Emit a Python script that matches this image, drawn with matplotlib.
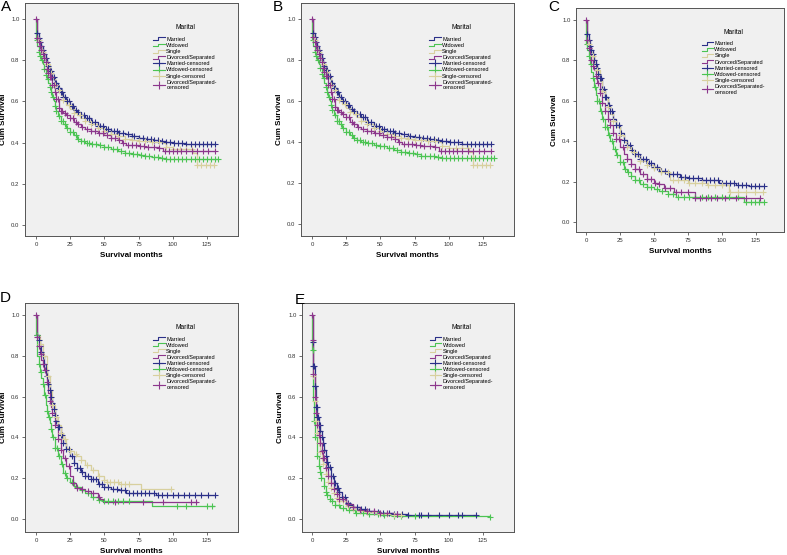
import numpy as np
import matplotlib
matplotlib.use("Agg")
import matplotlib.pyplot as plt
from matplotlib.lines import Line2D
from matplotlib.legend_handler import HandlerBase

plt.rcParams['font.family'] = ['Liberation Sans', 'DejaVu Sans']

groups = ["Married", "Widowed", "Single", "Divorced/Separated"]
censored_labels = ["Married-censored", "Widowed-censored", "Single-censored",
                   "Divorced/Separated-\ncensored"]
colors = ['#2b3088', '#4cc453', '#d8d09e', '#8c378c']
x_ticks = [0, 25, 50, 75, 100, 125]
y_ticks = [0.0, 0.2, 0.4, 0.6, 0.8, 1.0]
y_ticklabels = ["0.0", "0.2", "0.4", "0.6", "0.8", "1.0"]

# ---------------- Panel A (and B: same data) ----------------
A_married_t = [0, 0.5, 1, 2, 3, 4, 5, 6, 7, 8, 9, 10, 12, 14, 16, 18, 20, 22, 25, 28, 30, 33, 36, 40, 45, 50, 55, 60, 65, 70, 75, 80, 85, 90, 95, 100, 105, 110, 131]
A_married_s = [1.0, 0.95, 0.93, 0.91, 0.89, 0.87, 0.85, 0.83, 0.81, 0.79, 0.77, 0.75, 0.72, 0.69, 0.665, 0.645, 0.62, 0.60, 0.58, 0.56, 0.55, 0.535, 0.52, 0.50, 0.48, 0.465, 0.455, 0.445, 0.44, 0.43, 0.425, 0.42, 0.415, 0.41, 0.405, 0.40, 0.40, 0.392, 0.392]
A_married_c = [1, 2, 3, 4, 5, 6, 7, 8, 9, 10, 11, 12, 13, 14, 15, 16, 17, 18, 19, 20, 21, 23, 24, 26, 27, 29, 31, 33, 35, 37, 39, 41, 43, 45, 47, 49, 51, 53, 55, 57, 59, 61, 64, 67, 70, 72, 75, 78, 81, 84, 86, 89, 92, 95, 98, 101, 104, 107, 110, 113, 116, 119, 122, 125, 128, 131]

A_widowed_t = [0, 0.3, 1, 2, 3, 4, 5, 6, 7, 8, 9, 10, 11, 12, 13, 14, 15, 16, 18, 20, 22, 25, 28, 30, 33, 36, 40, 45, 50, 55, 60, 65, 70, 75, 80, 85, 90, 95, 133]
A_widowed_s = [1.0, 0.90, 0.87, 0.84, 0.82, 0.80, 0.78, 0.76, 0.73, 0.71, 0.69, 0.67, 0.645, 0.62, 0.60, 0.58, 0.555, 0.53, 0.505, 0.49, 0.47, 0.45, 0.435, 0.42, 0.41, 0.40, 0.395, 0.388, 0.38, 0.37, 0.36, 0.35, 0.345, 0.34, 0.333, 0.33, 0.328, 0.322, 0.322]
A_widowed_c = [0.5, 2, 3, 4.5, 6, 7, 8.5, 10, 11, 12.5, 14, 15, 16.5, 18, 19.5, 21, 23, 25, 27, 29, 31, 33, 35, 37, 39, 41, 44, 47, 50, 53, 56, 59, 62, 65, 68, 71, 74, 77, 80, 83, 86, 89, 92, 95, 98, 101, 104, 107, 110, 113, 116, 119, 122, 125, 128, 131, 133]

A_single_t = [0, 0.5, 1, 2, 3, 4, 5, 6, 7, 8, 10, 12, 14, 16, 18, 20, 22, 25, 28, 30, 33, 36, 40, 45, 50, 55, 60, 65, 70, 75, 85, 92, 95, 100, 112, 115, 118, 130]
A_single_s = [1.0, 0.95, 0.92, 0.90, 0.88, 0.86, 0.84, 0.82, 0.80, 0.78, 0.74, 0.71, 0.68, 0.655, 0.63, 0.605, 0.585, 0.565, 0.545, 0.535, 0.52, 0.505, 0.49, 0.47, 0.455, 0.44, 0.43, 0.42, 0.415, 0.41, 0.405, 0.40, 0.38, 0.37, 0.37, 0.35, 0.29, 0.29]
A_single_c = [2, 5, 8, 11, 14, 17, 20, 24, 28, 32, 36, 40, 45, 50, 55, 60, 65, 70, 75, 80, 85, 90, 95, 100, 105, 110, 114, 118, 121, 124, 127, 130]

A_divorced_t = [0, 0.5, 1, 2, 3, 4, 5, 6, 7, 8, 9, 10, 12, 14, 15, 17, 18, 20, 22, 25, 28, 30, 33, 36, 40, 45, 50, 55, 60, 63, 66, 70, 75, 80, 85, 90, 93, 131]
A_divorced_s = [1.0, 0.94, 0.91, 0.89, 0.87, 0.85, 0.83, 0.81, 0.79, 0.76, 0.74, 0.72, 0.68, 0.645, 0.61, 0.57, 0.555, 0.545, 0.535, 0.52, 0.50, 0.49, 0.475, 0.465, 0.455, 0.445, 0.435, 0.425, 0.415, 0.40, 0.39, 0.39, 0.385, 0.38, 0.38, 0.375, 0.358, 0.358]
A_divorced_c = [0, 1, 2, 3, 4, 5, 6, 7, 8, 9, 10, 11, 12, 13, 14, 15, 16, 17, 18, 19, 21, 23, 25, 27, 29, 31, 34, 37, 40, 43, 46, 49, 52, 55, 58, 61, 64, 67, 70, 73, 76, 79, 82, 86, 90, 94, 97, 100, 103, 106, 110, 114, 118, 122, 126, 131]

# ---------------- Panel C ----------------
C_married_t = [0, 0.5, 1, 2, 3, 4, 5, 6, 7, 8, 9, 10, 12, 14, 16, 18, 20, 22, 25, 28, 30, 33, 36, 40, 45, 50, 54, 60, 69, 75, 85, 98, 110, 120, 131]
C_married_s = [1.0, 0.95, 0.93, 0.90, 0.87, 0.85, 0.83, 0.80, 0.78, 0.76, 0.73, 0.71, 0.66, 0.62, 0.58, 0.55, 0.51, 0.48, 0.44, 0.405, 0.38, 0.355, 0.335, 0.31, 0.29, 0.27, 0.25, 0.235, 0.22, 0.215, 0.205, 0.195, 0.185, 0.178, 0.178]
C_married_c = [1, 2, 3, 4, 5, 6, 7, 8, 9, 10, 11, 12, 13, 14, 15, 16, 17, 18, 19, 20, 22, 24, 26, 28, 30, 32, 34, 36, 38, 40, 42, 44, 46, 48, 50, 52, 55, 58, 61, 64, 67, 70, 73, 76, 79, 82, 85, 88, 91, 94, 97, 100, 103, 106, 109, 112, 115, 118, 121, 124, 127, 131]

C_widowed_t = [0, 0.3, 1, 2, 3, 4, 5, 6, 7, 8, 10, 12, 14, 16, 18, 20, 22, 25, 28, 30, 33, 36, 40, 45, 50, 54, 60, 66, 116, 131]
C_widowed_s = [1.0, 0.88, 0.85, 0.82, 0.78, 0.74, 0.71, 0.67, 0.63, 0.60, 0.55, 0.51, 0.47, 0.43, 0.40, 0.36, 0.33, 0.295, 0.26, 0.245, 0.225, 0.205, 0.19, 0.175, 0.165, 0.155, 0.14, 0.125, 0.10, 0.10]
C_widowed_c = [0.5, 2, 3.5, 5, 6.5, 8, 9.5, 11, 12.5, 14, 15.5, 17, 19, 21, 23, 25, 27, 29, 31, 33, 36, 39, 42, 45, 48, 52, 56, 60, 64, 68, 72, 76, 80, 85, 90, 95, 100, 105, 112, 118, 121, 124, 127, 131]

C_single_t = [0, 0.5, 1, 2, 3, 4, 5, 6, 7, 8, 10, 12, 14, 16, 18, 20, 22, 25, 28, 30, 33, 36, 40, 45, 50, 55, 62, 75, 89, 105, 130]
C_single_s = [1.0, 0.93, 0.90, 0.88, 0.86, 0.84, 0.82, 0.79, 0.77, 0.75, 0.70, 0.65, 0.61, 0.57, 0.535, 0.50, 0.47, 0.43, 0.395, 0.37, 0.345, 0.325, 0.30, 0.28, 0.265, 0.245, 0.208, 0.195, 0.183, 0.147, 0.147]
C_single_c = [2, 5, 8, 12, 16, 20, 25, 30, 35, 40, 45, 50, 55, 60, 64, 68, 72, 76, 80, 85, 90, 95, 100, 106, 112, 118, 124, 130]

C_divorced_t = [0, 0.5, 1, 2, 3, 4, 5, 6, 7, 8, 10, 12, 14, 16, 18, 20, 22, 25, 28, 30, 33, 36, 40, 45, 50, 54, 57, 65, 80, 128]
C_divorced_s = [1.0, 0.93, 0.90, 0.86, 0.83, 0.80, 0.77, 0.75, 0.72, 0.69, 0.64, 0.59, 0.55, 0.51, 0.48, 0.44, 0.41, 0.37, 0.335, 0.31, 0.285, 0.26, 0.235, 0.21, 0.195, 0.19, 0.167, 0.15, 0.117, 0.117]
C_divorced_c = [0, 1, 2.5, 4, 5.5, 7, 8.5, 10, 12, 14, 16, 18, 20, 22, 24, 27, 30, 33, 36, 39, 42, 45, 48, 51, 54, 58, 62, 66, 70, 75, 80, 84, 88, 92, 96, 102, 110, 118, 128]

# ---------------- Panel D ----------------
D_married_t = [0, 0.5, 1, 2, 3, 4, 5, 6, 7, 8, 9, 10, 11, 12, 13, 14, 15, 16, 18, 20, 22, 25, 28, 30, 33, 36, 40, 45, 50, 55, 60, 66, 75, 88, 131]
D_married_s = [1.0, 0.95, 0.90, 0.88, 0.85, 0.82, 0.80, 0.76, 0.73, 0.70, 0.66, 0.63, 0.60, 0.57, 0.54, 0.51, 0.48, 0.45, 0.41, 0.37, 0.345, 0.31, 0.275, 0.25, 0.23, 0.21, 0.195, 0.17, 0.155, 0.148, 0.14, 0.129, 0.125, 0.118, 0.118]
D_married_c = [1, 2, 3, 4, 5, 6, 7, 8, 9, 10, 11, 12, 13, 14, 15, 16, 17, 18, 19, 20, 22, 24, 26, 28, 30, 32, 34, 36, 38, 40, 42, 44, 46, 48, 50, 53, 56, 59, 62, 65, 68, 71, 74, 77, 80, 83, 86, 89, 92, 96, 100, 104, 108, 112, 116, 121, 126, 131]

D_widowed_t = [0, 0.3, 1, 2, 3, 4, 5, 6, 7, 8, 9, 10, 11, 12, 14, 16, 18, 20, 22, 25, 28, 30, 33, 36, 40, 45, 50, 85, 130]
D_widowed_s = [1.0, 0.90, 0.80, 0.76, 0.72, 0.69, 0.66, 0.61, 0.56, 0.53, 0.50, 0.47, 0.44, 0.40, 0.35, 0.31, 0.27, 0.225, 0.20, 0.18, 0.16, 0.155, 0.14, 0.125, 0.11, 0.095, 0.088, 0.064, 0.064]
D_widowed_c = [0.5, 2, 3.5, 5, 6.5, 8, 9.5, 11, 12.5, 14, 15.5, 17, 19, 21, 23, 26, 30, 34, 38, 42, 46, 50, 53, 56, 60, 64, 68, 103, 110, 125, 129]

D_single_t = [0, 0.5, 1, 3, 5, 8, 10, 12, 14, 16, 18, 20, 22, 25, 28, 30, 33, 36, 40, 45, 50, 52, 61, 77, 99]
D_single_s = [1.0, 0.93, 0.90, 0.86, 0.80, 0.70, 0.63, 0.56, 0.50, 0.46, 0.42, 0.39, 0.35, 0.335, 0.32, 0.31, 0.29, 0.265, 0.24, 0.21, 0.19, 0.18, 0.171, 0.146, 0.146]
D_single_c = [3, 6, 9, 12, 15, 18, 21, 25, 29, 33, 37, 42, 46, 50, 52, 54, 57, 60, 62, 65, 68, 99]

D_divorced_t = [0, 0.5, 1, 2, 3, 4, 5, 6, 7, 8, 9, 10, 11, 12, 14, 16, 18, 20, 22, 25, 27, 29, 33, 36, 40, 45, 47, 49, 118]
D_divorced_s = [1.0, 0.93, 0.89, 0.85, 0.81, 0.78, 0.76, 0.73, 0.70, 0.67, 0.62, 0.58, 0.55, 0.52, 0.46, 0.39, 0.34, 0.30, 0.26, 0.21, 0.175, 0.15, 0.145, 0.135, 0.125, 0.11, 0.10, 0.085, 0.085]
D_divorced_c = [0, 1, 2, 3.5, 5, 6.5, 8, 10, 12, 14, 16, 18, 21, 24, 27, 30, 34, 38, 42, 46, 58, 78, 93, 113, 117]

# ---------------- Panel E ----------------
E_married_t = [0, 0.5, 1, 2, 3, 4, 5, 6, 7, 8, 9, 10, 11, 12, 14, 16, 18, 20, 22, 25, 28, 30, 35, 40, 45, 50, 60, 70, 120]
E_married_s = [1.0, 0.87, 0.75, 0.65, 0.55, 0.50, 0.46, 0.43, 0.40, 0.37, 0.34, 0.31, 0.28, 0.255, 0.21, 0.175, 0.15, 0.13, 0.11, 0.08, 0.07, 0.06, 0.048, 0.04, 0.035, 0.03, 0.025, 0.02, 0.02]
E_married_c = [0.5, 1, 1.5, 2, 2.5, 3, 3.5, 4, 4.5, 5, 5.5, 6, 7, 8, 9, 10, 11, 12, 13, 14, 15, 16, 17, 18, 19, 20, 22, 24, 26, 28, 30, 33, 36, 39, 42, 45, 48, 52, 56, 60, 62, 66, 70, 78, 80, 85, 93, 100, 107, 110, 120]

E_widowed_t = [0, 0.3, 0.6, 1.2, 2.4, 3.7, 4.9, 6, 6.8, 8.5, 10, 11, 13, 14.6, 17, 20.7, 25, 31.7, 40, 50, 60, 130]
E_widowed_s = [1.0, 0.83, 0.58, 0.48, 0.40, 0.31, 0.26, 0.23, 0.20, 0.16, 0.13, 0.118, 0.10, 0.086, 0.07, 0.053, 0.042, 0.03, 0.022, 0.018, 0.013, 0.011]
E_widowed_c = [0.5, 1.2, 2.4, 3.7, 4.9, 6, 6.8, 8.5, 10, 11, 13, 14.6, 17, 20, 23, 27, 32, 37, 42, 48, 53, 60, 65, 75, 130]

E_single_t = [0, 0.5, 1, 2, 3, 4, 5, 6, 7, 8, 10, 12, 14, 16, 18, 20, 25, 30, 35, 40, 50, 60, 65]
E_single_s = [1.0, 0.85, 0.70, 0.58, 0.48, 0.42, 0.37, 0.33, 0.30, 0.27, 0.22, 0.18, 0.15, 0.125, 0.105, 0.09, 0.065, 0.05, 0.04, 0.033, 0.025, 0.018, 0.018]
E_single_c = [1, 2, 3, 4, 5, 6, 7, 8, 10, 12, 14, 16, 18, 20, 23, 26, 30, 35, 40, 45, 50, 55, 60, 65]

E_divorced_t = [0, 0.5, 1, 2, 3, 4, 5, 6, 7, 8, 10, 12, 14, 16, 18, 20, 25, 30, 35, 40, 50, 60, 62]
E_divorced_s = [1.0, 0.88, 0.71, 0.60, 0.52, 0.46, 0.41, 0.37, 0.335, 0.30, 0.25, 0.21, 0.175, 0.145, 0.12, 0.10, 0.075, 0.058, 0.045, 0.038, 0.03, 0.022, 0.022]
E_divorced_c = [0, 0.5, 1, 2, 3, 4, 5, 6, 7, 8, 9, 10, 12, 14, 16, 18, 20, 23, 26, 30, 35, 40, 45, 50, 55, 62]

panel_A = [(A_married_t, A_married_s, A_married_c), (A_widowed_t, A_widowed_s, A_widowed_c),
           (A_single_t, A_single_s, A_single_c), (A_divorced_t, A_divorced_s, A_divorced_c)]
panel_C = [(C_married_t, C_married_s, C_married_c), (C_widowed_t, C_widowed_s, C_widowed_c),
           (C_single_t, C_single_s, C_single_c), (C_divorced_t, C_divorced_s, C_divorced_c)]
panel_D = [(D_married_t, D_married_s, D_married_c), (D_widowed_t, D_widowed_s, D_widowed_c),
           (D_single_t, D_single_s, D_single_c), (D_divorced_t, D_divorced_s, D_divorced_c)]
panel_E = [(E_married_t, E_married_s, E_married_c), (E_widowed_t, E_widowed_s, E_widowed_c),
           (E_single_t, E_single_s, E_single_c), (E_divorced_t, E_divorced_s, E_divorced_c)]


class StepHandler(HandlerBase):
    def create_artists(self, legend, orig_handle, xdescent, ydescent, width,
                       height, fontsize, trans):
        x0, y0 = -xdescent, -ydescent
        xm = x0 + 0.45 * width
        xs = [x0, xm, xm, x0 + width]
        ys = [y0 + 0.15 * height, y0 + 0.15 * height, y0 + 0.9 * height, y0 + 0.9 * height]
        ln = Line2D(xs, ys, color=orig_handle.get_color(),
                    lw=orig_handle.get_linewidth(), transform=trans)
        return [ln]


W, H = 787, 555
fig = plt.figure(figsize=(W / 100, H / 100), dpi=100)


def make_axes(rect, data, xlim, ylim, letter, letter_xy):
    l, t, r, b = rect
    ax = fig.add_axes([l / W, 1 - b / H, (r - l) / W, (b - t) / H])
    ax.set_facecolor('#f0f0f0')
    for (tt, ss, cc), col in zip(data, colors):
        tt = np.asarray(tt, float)
        ss = np.asarray(ss, float)
        cc = np.asarray(cc, float)
        ax.step(tt, ss, where='post', color=col, lw=0.9, zorder=2)
        idx = np.clip(np.searchsorted(tt, cc, side='right') - 1, 0, len(ss) - 1)
        ax.plot(cc, ss[idx], ls='none', marker='+', ms=4.8, mew=0.8, color=col, zorder=3)
    ax.set_xlim(*xlim)
    ax.set_ylim(*ylim)
    ax.set_xticks(x_ticks)
    ax.set_yticks(y_ticks)
    ax.set_yticklabels(y_ticklabels)
    ax.tick_params(labelsize=4.3, length=2.5, width=0.5, pad=1.5, colors='#333333')
    for sp in ax.spines.values():
        sp.set_linewidth(0.7)
        sp.set_color('#555555')
    ax.set_xlabel('Survival months', fontsize=5.8, fontweight='bold', labelpad=4)
    ax.set_ylabel('Cum Survival', fontsize=5.8, fontweight='bold', labelpad=3)

    line_h = [Line2D([], [], color=c, lw=0.8) for c in colors]
    cens_h = [Line2D([], [], color=c, lw=0.8, marker='+', ms=6, mew=0.8) for c in colors]
    leg = ax.legend(line_h + cens_h, groups + censored_labels, title='Marital',
                    loc='upper left', bbox_to_anchor=(0.585, 0.925), frameon=False,
                    fontsize=4.0, title_fontsize=4.8, handlelength=2.0,
                    handletextpad=0.3, labelspacing=0.2, borderpad=0.2,
                    handler_map={h: StepHandler() for h in line_h})
    leg._legend_box.sep = 4
    fig.text(letter_xy[0] / W, 1 - letter_xy[1] / H, letter, fontsize=11,
             ha='left', va='top')
    return ax


make_axes((25, 3, 238, 236), panel_A, (-8, 147.7), (-0.053, 1.078), 'A', (1, 0))
make_axes((301, 3, 514, 236), panel_A, (-8, 147.7), (-0.058, 1.078), 'B', (273, 0))
make_axes((576, 8, 784, 232), panel_C, (-7.35, 145.6), (-0.05, 1.059), 'C', (548, 0))
make_axes((25, 303, 238, 532), panel_D, (-8, 147.7), (-0.064, 1.059), 'D', (0, 291))
make_axes((302, 303, 514, 532), panel_E, (-7.3, 147.7), (-0.064, 1.059), 'E', (295, 293))

fig.savefig('out.png', dpi=100)
